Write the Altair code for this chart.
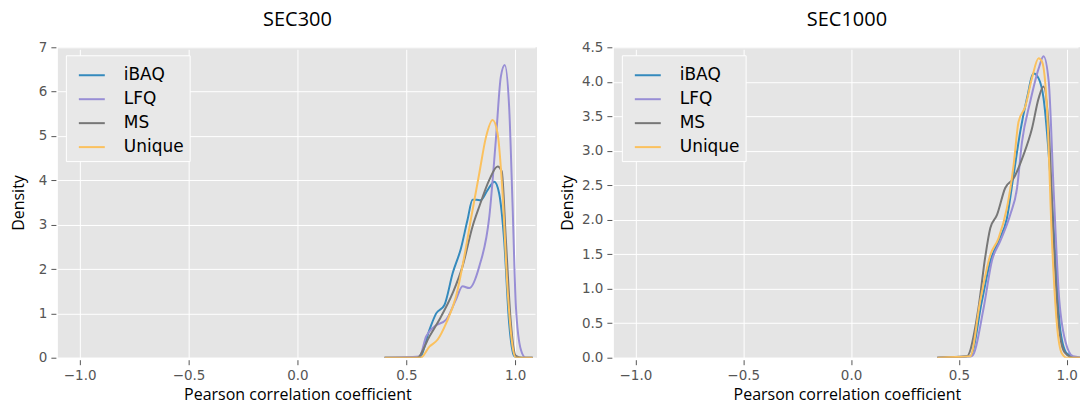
import altair as alt
import pandas as pd

series = ["iBAQ", "LFQ", "MS", "Unique"]
colors = ["#348ABD", "#988ED5", "#777777", "#FBC15E"]

# SEC300 panel
s300_ibaq_x = [0.40, 0.56, 0.606, 0.637, 0.675, 0.713, 0.751, 0.781, 0.804, 0.822, 0.84, 0.873, 0.904, 0.926, 0.949, 0.972, 0.995, 1.018, 1.08]
s300_ibaq_y = [0, 0, 0.63, 1.0, 1.19, 1.91, 2.47, 3.11, 3.56, 3.56, 3.55, 3.78, 3.97, 3.71, 2.66, 0.78, 0.04, 0, 0]
s300_lfq_x = [0.40, 0.56, 0.591, 0.629, 0.683, 0.728, 0.758, 0.789, 0.835, 0.881, 0.911, 0.934, 0.952, 0.972, 0.988, 1.003, 1.026, 1.048, 1.08]
s300_lfq_y = [0, 0.03, 0.48, 0.705, 0.86, 1.31, 1.61, 1.57, 2.06, 3.18, 4.91, 6.34, 6.6, 5.66, 3.41, 1.16, 0.18, 0, 0]
s300_ms_x = [0.40, 0.55, 0.606, 0.652, 0.713, 0.758, 0.804, 0.835, 0.881, 0.919, 0.938, 0.957, 0.98, 1.003, 1.03, 1.08]
s300_ms_y = [0, 0, 0.48, 0.86, 1.46, 2.06, 2.96, 3.41, 4.01, 4.31, 4.2, 2.66, 0.78, 0.04, 0, 0]
s300_uni_x = [0.40, 0.566, 0.606, 0.644, 0.683, 0.728, 0.766, 0.796, 0.835, 0.866, 0.896, 0.919, 0.941, 0.965, 0.988, 1.003, 1.08]
s300_uni_y = [0, 0, 0.25, 0.41, 0.78, 1.38, 2.28, 3.11, 4.16, 4.98, 5.36, 5.06, 3.78, 1.53, 0.25, 0, 0]

# SEC1000 panel
s1000_ibaq_x = [0.40, 0.553, 0.607, 0.646, 0.684, 0.723, 0.754, 0.785, 0.816, 0.847, 0.87, 0.893, 0.924, 0.948, 0.971, 1.002, 1.05, 1.08]
s1000_ibaq_y = [0, 0.02, 0.82, 1.4, 1.69, 2.02, 2.65, 3.28, 3.76, 4.12, 4.05, 3.76, 2.65, 1.45, 0.39, 0.06, 0, 0]
s1000_lfq_x = [0.40, 0.56, 0.615, 0.653, 0.692, 0.738, 0.77, 0.793, 0.831, 0.87, 0.893, 0.917, 0.94, 0.963, 0.994, 1.03, 1.08]
s1000_lfq_y = [0, 0.02, 0.72, 1.4, 1.69, 2.07, 2.46, 3.13, 3.71, 4.19, 4.37, 4.0, 2.41, 0.96, 0.24, 0.02, 0]
s1000_ms_x = [0.40, 0.537, 0.591, 0.622, 0.646, 0.677, 0.715, 0.754, 0.8, 0.839, 0.87, 0.893, 0.917, 0.94, 0.963, 0.99, 1.03, 1.08]
s1000_ms_y = [0, 0.02, 0.72, 1.45, 1.88, 2.07, 2.46, 2.6, 2.94, 3.32, 3.76, 3.93, 3.32, 1.69, 0.48, 0.08, 0, 0]
s1000_uni_x = [0.40, 0.553, 0.599, 0.646, 0.684, 0.723, 0.754, 0.777, 0.808, 0.839, 0.87, 0.886, 0.909, 0.932, 0.955, 0.978, 1.0, 1.08]
s1000_uni_y = [0, 0.02, 0.82, 1.49, 1.73, 2.17, 2.79, 3.42, 3.64, 4.05, 4.34, 4.29, 3.61, 1.69, 0.48, 0.06, 0, 0]

x_ticks = [-1.0, -0.5, 0.0, 0.5, 1.0]
y_ticks_300 = [0, 1, 2, 3, 4, 5, 6, 7]
y_ticks_1000 = [0, 0.5, 1.0, 1.5, 2.0, 2.5, 3.0, 3.5, 4.0, 4.5]


def frame(parts):
    rows = []
    for name, xs, ys in parts:
        for i, (a, b) in enumerate(zip(xs, ys)):
            rows.append({"series": name, "r": a, "density": b, "i": i})
    return pd.DataFrame(rows)


df300 = frame([("iBAQ", s300_ibaq_x, s300_ibaq_y), ("LFQ", s300_lfq_x, s300_lfq_y),
               ("MS", s300_ms_x, s300_ms_y), ("Unique", s300_uni_x, s300_uni_y)])
df1000 = frame([("iBAQ", s1000_ibaq_x, s1000_ibaq_y), ("LFQ", s1000_lfq_x, s1000_lfq_y),
                ("MS", s1000_ms_x, s1000_ms_y), ("Unique", s1000_uni_x, s1000_uni_y)])

TICK_FONT = "DejaVu Sans"
TEXT_FONT = "Open Sans"


def panel(df, title, ydom, yticks, yfmt, xdom, width, title_pad):
    return alt.Chart(df, title=alt.TitleParams(title, fontSize=20, font=TEXT_FONT, fontWeight="normal",
                                               color="#000000", offset=10)).mark_line(
        strokeWidth=2, interpolate="monotone", clip=True
    ).encode(
        x=alt.X("r:Q", scale=alt.Scale(domain=xdom, nice=False, zero=False),
                axis=alt.Axis(title="Pearson correlation coefficient", values=x_ticks, format=".1f",
                              titlePadding=4)),
        y=alt.Y("density:Q", scale=alt.Scale(domain=ydom, nice=False),
                axis=alt.Axis(title="Density", values=yticks, format=yfmt, titlePadding=title_pad)),
        color=alt.Color("series:N", scale=alt.Scale(domain=series, range=colors),
                        legend=alt.Legend(title=None, orient="top-left", offset=8)),
        detail="series:N",
        order="i:Q",
    ).properties(width=width, height=311)


left = panel(df300, "SEC300", [0, 7], y_ticks_300, "d", [-1.1, 1.1], 480, 12)
right = panel(df1000, "SEC1000", [0, 4.5], y_ticks_1000, ".1f", [-1.1, 1.062], 467, 6)

chart = alt.hconcat(left, right, spacing=22).resolve_scale(color="independent").properties(
    padding={"left": 10, "top": 10, "right": 0, "bottom": 6}
).configure_view(
    fill="#E5E5E5", stroke=None
).configure_axis(
    grid=True, gridColor="#FFFFFF", gridWidth=1, domain=False,
    tickColor="#555555", tickSize=5, tickWidth=1, offset=2,
    labelFont=TICK_FONT, labelFontSize=13.5, labelColor="#555555", labelPadding=4,
    titleFont=TEXT_FONT, titleFontSize=16, titleFontWeight="normal", titleColor="#000000"
).configure_legend(
    fillColor="#E8E8E8", strokeColor="#FFFFFF", padding=6, cornerRadius=0,
    symbolType="stroke", symbolStrokeWidth=2, symbolSize=676, symbolOffset=6,
    labelFont=TICK_FONT, labelFontSize=17, labelColor="#000000", labelOffset=18,
    rowPadding=2
)

chart.save("out.html", embed_options={"renderer": "svg", "actions": False})
